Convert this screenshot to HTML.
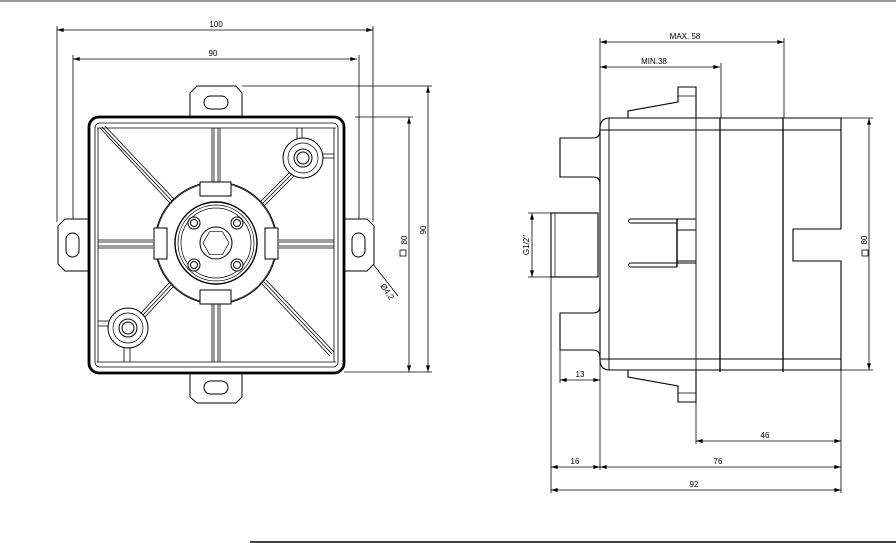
<!DOCTYPE html>
<html><head><meta charset="utf-8"><style>
html,body{margin:0;padding:0;background:#fff;}
svg{display:block;font-family:"Liberation Sans",sans-serif;}
</style></head><body>
<svg width="896" height="543" viewBox="0 0 896 543" xmlns="http://www.w3.org/2000/svg">
<defs>
<marker id="a" viewBox="0 0 10 6" refX="10" refY="3" markerWidth="8" markerHeight="4" orient="auto-start-reverse" markerUnits="userSpaceOnUse"><path d="M0,0 L10,3 L0,6z" fill="#000"/></marker>
</defs>
<line x1="0" y1="1" x2="896" y2="1" stroke="#999" stroke-width="2"/>
<line x1="250" y1="542" x2="896" y2="542" stroke="#000" stroke-width="1.5"/>

<g stroke="#000" fill="none" stroke-width="0.8">
<line x1="57" y1="30" x2="373" y2="30" marker-start="url(#a)" marker-end="url(#a)"/>
<line x1="73" y1="59" x2="357" y2="59" marker-start="url(#a)" marker-end="url(#a)"/>
<line x1="57" y1="26" x2="57" y2="222"/>
<line x1="373" y1="26" x2="373" y2="222"/>
<line x1="73" y1="55" x2="73" y2="238"/>
<line x1="359" y1="55" x2="359" y2="238"/>
<line x1="242" y1="86" x2="432" y2="86"/>
<line x1="355" y1="117" x2="413" y2="117"/>
<line x1="344" y1="372" x2="432" y2="372"/>
<line x1="428" y1="86" x2="428" y2="372" marker-start="url(#a)" marker-end="url(#a)"/>
<line x1="409" y1="117" x2="409" y2="372" marker-start="url(#a)" marker-end="url(#a)"/>
<line x1="362" y1="250" x2="398" y2="296" marker-start="url(#a)"/>
</g>
<g font-size="8" fill="#000">
<text x="216" y="27" text-anchor="middle">100</text>
<text x="213" y="56" text-anchor="middle">90</text>
<text transform="translate(426,230) rotate(-90)" text-anchor="middle">90</text>
<text transform="translate(407,240) rotate(-90)" text-anchor="middle">80</text>
<text transform="translate(380,286) rotate(55)">Ø4,2</text>
</g>
<rect x="400" y="250" width="6" height="6" fill="none" stroke="#000" stroke-width="0.8"/>

<g stroke="#000" fill="#fff" stroke-width="1">
<path d="M197,86 L236,86 L242,93 L242,117 L190,117 L190,93 Z"/>
<path d="M190,373 L242,373 L242,397 L236,403 L197,403 L190,397 Z"/>
<path d="M89,219 L89,271 L65,271 L58,264 L58,226 L65,219 Z"/>
<path d="M344,219 L367,219 L374,226 L374,264 L367,271 L344,271 Z"/>
<rect x="204" y="96" width="24" height="13" rx="6.5"/>
<rect x="204" y="381" width="24" height="13" rx="6.5"/>
<rect x="66" y="233" width="13" height="24" rx="6.5"/>
<rect x="352" y="233" width="13" height="24" rx="6.5"/>
<rect x="89" y="117" width="255" height="256" rx="10" stroke-width="2.8"/>
</g>
<g stroke="#000" fill="none" stroke-width="0.8">
<rect x="95" y="123" width="243" height="244" rx="5"/>
<line x1="97" y1="128" x2="336" y2="128"/>
<line x1="97" y1="362" x2="336" y2="362"/>
<line x1="98" y1="128" x2="98" y2="362"/>
<line x1="334" y1="128" x2="334" y2="362"/>
<path d="M100,128 L170,203 M105,126 L174,199 M102,127 L172,201"/>
<path d="M330,356 L262,284 M334,352 L266,280 M332,354 L264,282"/>
<path d="M290,172 L258,204 M294,176 L262,208 M292,174 L260,206"/>
<path d="M140,314 L170,282 M144,318 L174,286 M142,316 L172,284"/>
<path d="M212,128 L212,183 M220,128 L220,183 M214,128 L214,183 M218,128 L218,183"/>
<path d="M212,303 L212,362 M220,303 L220,362 M214,303 L214,362 M218,303 L218,362"/>
<path d="M98,240 L153,240 M98,248 L153,248 M98,242 L153,242 M98,246 L153,246"/>
<path d="M279,240 L334,240 M279,248 L334,248 M279,242 L334,242 M279,246 L334,246"/>
<path d="M297,128 L297,140 M302,128 L302,140 M321,154 L334,154 M321,158 L334,158"/>
<path d="M124,346 L124,362 M130,346 L130,362 M98,321 L110,321 M98,326 L110,326"/>
</g>
<g stroke="#000" fill="#fff" stroke-width="1">
<circle cx="216" cy="243" r="61"/>
<circle cx="216" cy="243" r="60" fill="none" stroke-width="0.6"/>
<rect x="200" y="182" width="31" height="14"/>
<rect x="200" y="290" width="31" height="14"/>
<rect x="154" y="228" width="13" height="31"/>
<rect x="265" y="228" width="13" height="31"/>
<circle cx="216" cy="243" r="41" stroke-width="1.4"/>
<circle cx="216" cy="243" r="38" fill="none" stroke-width="0.7"/>
<circle cx="216" cy="243" r="35" fill="none" stroke-width="0.7"/>
<circle cx="216" cy="243" r="16"/>
<polygon points="229,243 222.5,254.3 209.5,254.3 203,243 209.5,231.7 222.5,231.7" fill="none" stroke-width="0.7"/>
<circle cx="194" cy="223" r="6"/><circle cx="194" cy="223" r="3.5"/>
<circle cx="237" cy="223" r="6"/><circle cx="237" cy="223" r="3.5"/>
<circle cx="194" cy="265" r="6"/><circle cx="194" cy="265" r="3.5"/>
<circle cx="237" cy="265" r="6"/><circle cx="237" cy="265" r="3.5"/>
<circle cx="303" cy="158" r="20"/><circle cx="303" cy="158" r="15" fill="none" stroke-width="0.7"/>
<circle cx="303" cy="158" r="9"/><circle cx="303" cy="158" r="6"/>
<circle cx="128" cy="328" r="20"/><circle cx="128" cy="328" r="15" fill="none" stroke-width="0.7"/>
<circle cx="128" cy="328" r="9"/><circle cx="128" cy="328" r="6"/>
</g>

<g stroke="#000" fill="none" stroke-width="0.8">
<line x1="600" y1="42" x2="784" y2="42" marker-start="url(#a)" marker-end="url(#a)"/>
<line x1="600" y1="67" x2="720" y2="67" marker-start="url(#a)" marker-end="url(#a)"/>
<line x1="600" y1="38" x2="600" y2="470"/>
<line x1="784" y1="38" x2="784" y2="118"/>
<line x1="721" y1="63" x2="721" y2="118"/>
<line x1="696" y1="87" x2="696" y2="444"/>
<line x1="551" y1="213" x2="551" y2="493"/>
<line x1="841" y1="370" x2="841" y2="493"/>
<line x1="560" y1="350" x2="560" y2="383"/>
<line x1="841" y1="118" x2="873" y2="118"/>
<line x1="841" y1="370" x2="873" y2="370"/>
<line x1="869" y1="118" x2="869" y2="370" marker-start="url(#a)" marker-end="url(#a)"/>
<line x1="560" y1="380" x2="600" y2="380" marker-start="url(#a)" marker-end="url(#a)"/>
<line x1="696" y1="441" x2="841" y2="441" marker-start="url(#a)" marker-end="url(#a)"/>
<line x1="551" y1="467" x2="600" y2="467" marker-start="url(#a)" marker-end="url(#a)"/>
<line x1="600" y1="467" x2="841" y2="467" marker-start="url(#a)" marker-end="url(#a)"/>
<line x1="551" y1="490" x2="841" y2="490" marker-start="url(#a)" marker-end="url(#a)"/>
<line x1="528" y1="213" x2="552" y2="213"/>
<line x1="528" y1="277" x2="552" y2="277"/>
<line x1="532" y1="213" x2="532" y2="277" marker-start="url(#a)" marker-end="url(#a)"/>
</g>
<g font-size="8" fill="#000">
<text x="685" y="39" text-anchor="middle">MAX. 58</text>
<text x="654" y="64" text-anchor="middle">MIN.38</text>
<text x="580" y="377" text-anchor="middle">13</text>
<text x="765" y="438" text-anchor="middle">46</text>
<text x="575" y="464" text-anchor="middle">16</text>
<text x="718" y="464" text-anchor="middle">76</text>
<text x="694" y="487" text-anchor="middle">92</text>
<text transform="translate(529,245) rotate(-90)" text-anchor="middle">G1/2"</text>
<text transform="translate(867,240) rotate(-90)" text-anchor="middle">80</text>
</g>
<rect x="862" y="250" width="6" height="6" fill="none" stroke="#000" stroke-width="0.8"/>
<g stroke="#000" fill="#fff" stroke-width="1.1">
<path d="M600,130 Q600,138 593,138 L560,138 L560,177 L593,177 Q600,177 600,184"/>
<path d="M600,306 Q600,313 593,313 L560,313 L560,350 L593,350 Q600,350 600,358"/>
<rect x="551" y="213" width="47" height="64"/>
<line x1="555" y1="213" x2="555" y2="277" stroke-width="0.7"/>
<path d="M628,118 L628,111 L678,102 L678,87 L696,87 L696,118 Z"/>
<line x1="678" y1="96" x2="696" y2="96" stroke-width="0.8"/>
<path d="M628,370 L628,377 L678,386 L678,402 L696,402 L696,370 Z"/>
<line x1="678" y1="393" x2="696" y2="393" stroke-width="0.8"/>
<path d="M610,118 L841,118 L841,229 L793,229 L793,261 L841,261 L841,370 L610,370 Q600,370 600,360 L600,128 Q600,118 610,118 Z"/>
</g>
<g stroke="#000" fill="none" stroke-width="0.9">
<line x1="609" y1="118" x2="609" y2="370"/>
<line x1="600" y1="130" x2="841" y2="130"/>
<line x1="600" y1="359" x2="841" y2="359"/>
<line x1="720" y1="118" x2="720" y2="372" stroke-width="1.3"/>
<line x1="783" y1="118" x2="783" y2="372" stroke-width="1.3"/>
<line x1="696" y1="118" x2="696" y2="370"/>
<path d="M696,219 L630,219 Q627,221 630,223 L677,223"/>
<path d="M696,263 L630,263 Q627,265 630,267 L677,267"/>
<line x1="677" y1="219" x2="677" y2="267" stroke-width="1.4"/>
<line x1="677" y1="230" x2="696" y2="230"/>
<line x1="677" y1="261" x2="696" y2="261"/>
</g>
</svg>
</body></html>
